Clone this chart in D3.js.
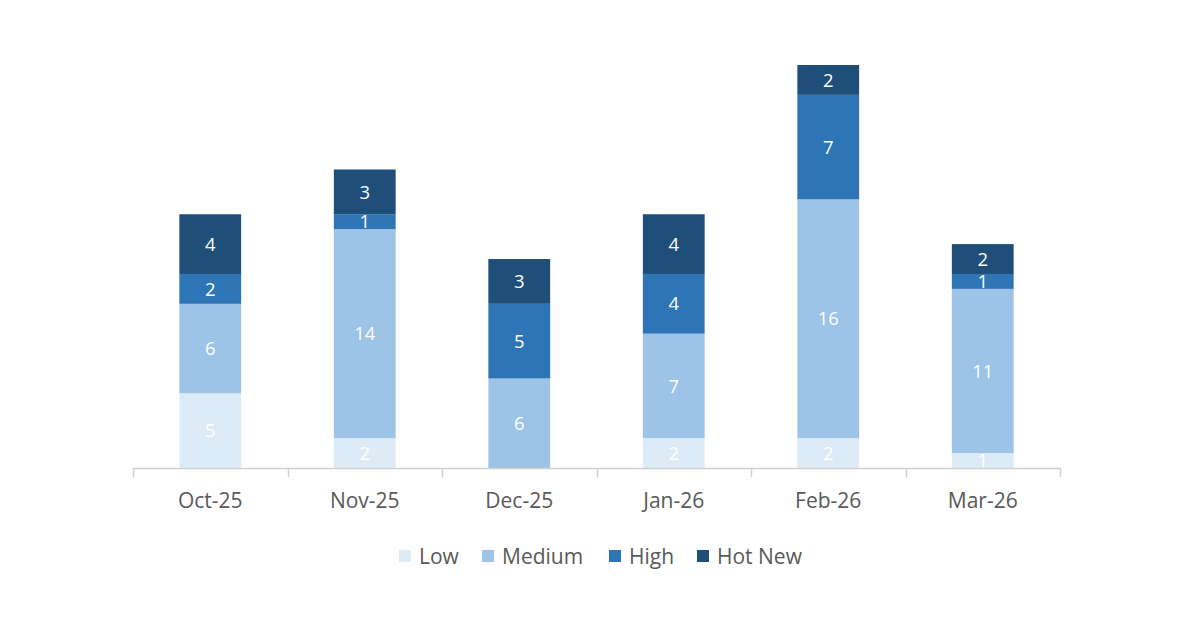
<!DOCTYPE html>
<html><head><meta charset="utf-8">
<script src="https://cdn.jsdelivr.net/npm/d3@7"></script>
<style>body{margin:0;background:#fff}svg{display:block}text{font-family:"Open Sans",sans-serif}</style>
</head><body><svg id="c" width="1200" height="630"></svg>
<script>
const categories = ["Oct-25","Nov-25","Dec-25","Jan-26","Feb-26","Mar-26"];
const seriesNames = ["Low","Medium","High","Hot New"];
const low    = [5,2,0,2,2,1];
const medium = [6,14,6,7,16,11];
const high   = [2,1,5,4,7,1];
const hotNew = [4,3,3,4,2,2];
const colors = ["#DDEBF7","#9DC3E6","#2E75B6","#1F4E79"];

const rows = categories.map((c,i)=>({cat:c, Low:low[i], Medium:medium[i], High:high[i], "Hot New":hotNew[i]}));
const stack = d3.stack().keys(seriesNames)(rows);

const svg = d3.select("#c");
const x = d3.scaleBand().domain(categories).range([133,1060]).paddingInner(0.6).paddingOuter(0.3);
const y = d3.scaleLinear().domain([0,27]).range([468,65]);

const g = svg.append("g");
stack.forEach((s,si)=>{
  const sg = g.append("g");
  sg.selectAll("rect").data(s).join("rect")
    .attr("x",d=>x(d.data.cat)).attr("width",x.bandwidth())
    .attr("y",d=>y(d[1])).attr("height",d=>y(d[0])-y(d[1]))
    .attr("fill",colors[si]);
  sg.selectAll("text").data(s.filter(d=>d[1]-d[0]>0)).join("text")
    .attr("x",d=>x(d.data.cat)+x.bandwidth()/2)
    .attr("y",d=>(y(d[0])+y(d[1]))/2)
    .attr("dy","0.36em").attr("text-anchor","middle")
    .attr("fill","#fff").attr("font-size",18.5)
    .text(d=>d[1]-d[0]);
});

// axis
const ax = svg.append("g");
ax.append("line").attr("x1",133).attr("x2",1060).attr("y1",468.5).attr("y2",468.5).attr("stroke","#d0d0d0").attr("stroke-width",1.5);
const step = (1060-133)/categories.length;
const tickXs = d3.range(categories.length+1).map(i=>133+i*step);
ax.selectAll("line.t").data(tickXs).join("line").attr("class","t")
  .attr("x1",d=>Math.round(d)+0.5).attr("x2",d=>Math.round(d)+0.5).attr("y1",468).attr("y2",477)
  .attr("stroke","#d0d0d0").attr("stroke-width",1.5);
ax.selectAll("text").data(categories).join("text")
  .attr("x",d=>x(d)+x.bandwidth()/2).attr("y",500).attr("dy","0.36em")
  .attr("text-anchor","middle").attr("fill","#595959").attr("font-size",21).text(d=>d);

// legend
const legendX = [399,482,609,697];
const lg = svg.append("g");
seriesNames.forEach((n,i)=>{
  lg.append("rect").attr("x",legendX[i]).attr("y",550).attr("width",12).attr("height",12).attr("fill",colors[i]);
  lg.append("text").attr("x",legendX[i]+20).attr("y",556).attr("dy","0.36em")
    .attr("fill","#595959").attr("font-size",21).text(n);
});
</script></body></html>
